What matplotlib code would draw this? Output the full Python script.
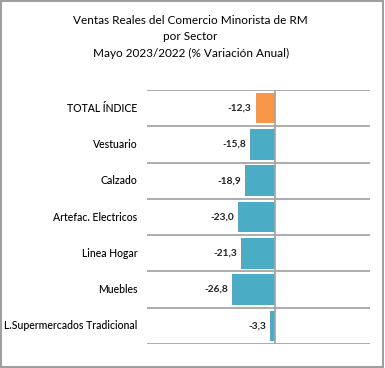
import matplotlib.pyplot as plt
from matplotlib.patches import Rectangle

# === Data ===
sectores = ["TOTAL ÍNDICE", "Vestuario", "Calzado", "Artefac. Electricos",
            "Linea Hogar", "Muebles", "L.Supermercados Tradicional"]
variacion = [-12.3, -15.8, -18.9, -23.0, -21.3, -26.8, -3.3]
colores = ["#F79646"] + ["#4BACC6"] * 6

plt.rcParams['font.family'] = ['Lato', 'DejaVu Sans']

fig = plt.figure(figsize=(3.85, 3.68), dpi=100)
ax = fig.add_axes([147 / 385, 1 - 344 / 368, (370 - 147) / 385, (344 - 90) / 368])

pos = list(range(len(sectores)))
ax.barh(pos, variacion, height=0.84, color=colores, zorder=3)
ax.set_ylim(len(sectores) - 0.5, -0.5)
ax.set_xlim(-80, 59)

# horizontal gridlines between categories
for b in range(len(sectores) + 1):
    ax.axhline(b - 0.5, color="#A6A6A6", lw=1.3, zorder=1)
ax.axvline(0, color="#A6A6A6", lw=1.3, zorder=4)

for i, v in enumerate(variacion):
    ax.text(v - 2.5, i, f"{v:.1f}".replace(".", ","), ha="right", va="center",
            fontsize=7.3, fontweight="bold", color="#222222")
    ax.text(-86, i, sectores[i], ha="right", va="center", fontsize=7.6,
            fontweight="medium", color="#000000", clip_on=False)

ax.set_xticks([])
ax.set_yticks([])
for s in ax.spines.values():
    s.set_visible(False)

fig.text(0.495, 1 - 20 / 368, "Ventas Reales del Comercio Minorista de RM",
         ha="center", va="center", fontsize=8.5)
fig.text(0.495, 1 - 37 / 368, "por Sector", ha="center", va="center", fontsize=8.5)
fig.text(0.495, 1 - 53 / 368, "Mayo 2023/2022 (% Variación Anual)",
         ha="center", va="center", fontsize=8.5)

fig.patches.append(Rectangle((0.002, 0.002), 0.994, 0.994, transform=fig.transFigure,
                             fill=False, edgecolor="#8C8C8C", lw=1.2))

fig.savefig("out.png", dpi=100)
